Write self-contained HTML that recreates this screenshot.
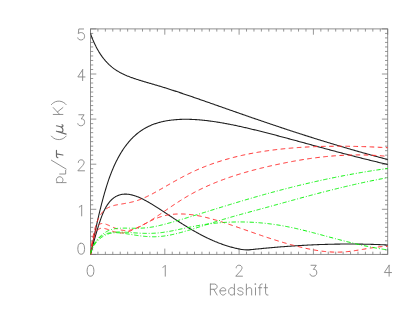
<!DOCTYPE html>
<html><head><meta charset="utf-8"><title>plot</title><style>html,body{margin:0;padding:0;background:#fff;font-family:"Liberation Sans",sans-serif}svg{display:block}</style></head><body><svg width="415" height="312" viewBox="0 0 415 312">
<rect width="415" height="312" fill="#fff"/>
<g fill="none" stroke="#848484" stroke-width="0.9">
<rect x="90.5" y="28.9" width="297.2" height="225.5"/>
<path d="M90.50 254.4v-5.8M90.50 28.9v5.8M97.93 254.4v-2.7M97.93 28.9v2.7M105.36 254.4v-2.7M105.36 28.9v2.7M112.79 254.4v-2.7M112.79 28.9v2.7M120.22 254.4v-2.7M120.22 28.9v2.7M127.65 254.4v-2.7M127.65 28.9v2.7M135.08 254.4v-2.7M135.08 28.9v2.7M142.51 254.4v-2.7M142.51 28.9v2.7M149.94 254.4v-2.7M149.94 28.9v2.7M157.37 254.4v-2.7M157.37 28.9v2.7M164.80 254.4v-5.8M164.80 28.9v5.8M172.23 254.4v-2.7M172.23 28.9v2.7M179.66 254.4v-2.7M179.66 28.9v2.7M187.09 254.4v-2.7M187.09 28.9v2.7M194.52 254.4v-2.7M194.52 28.9v2.7M201.95 254.4v-2.7M201.95 28.9v2.7M209.38 254.4v-2.7M209.38 28.9v2.7M216.81 254.4v-2.7M216.81 28.9v2.7M224.24 254.4v-2.7M224.24 28.9v2.7M231.67 254.4v-2.7M231.67 28.9v2.7M239.10 254.4v-5.8M239.10 28.9v5.8M246.53 254.4v-2.7M246.53 28.9v2.7M253.96 254.4v-2.7M253.96 28.9v2.7M261.39 254.4v-2.7M261.39 28.9v2.7M268.82 254.4v-2.7M268.82 28.9v2.7M276.25 254.4v-2.7M276.25 28.9v2.7M283.68 254.4v-2.7M283.68 28.9v2.7M291.11 254.4v-2.7M291.11 28.9v2.7M298.54 254.4v-2.7M298.54 28.9v2.7M305.97 254.4v-2.7M305.97 28.9v2.7M313.40 254.4v-5.8M313.40 28.9v5.8M320.83 254.4v-2.7M320.83 28.9v2.7M328.26 254.4v-2.7M328.26 28.9v2.7M335.69 254.4v-2.7M335.69 28.9v2.7M343.12 254.4v-2.7M343.12 28.9v2.7M350.55 254.4v-2.7M350.55 28.9v2.7M357.98 254.4v-2.7M357.98 28.9v2.7M365.41 254.4v-2.7M365.41 28.9v2.7M372.84 254.4v-2.7M372.84 28.9v2.7M380.27 254.4v-2.7M380.27 28.9v2.7M387.70 254.4v-5.8M387.70 28.9v5.8M90.5 254.40h5.8M387.7 254.40h-5.8M90.5 249.89h2.7M387.7 249.89h-2.7M90.5 245.38h2.7M387.7 245.38h-2.7M90.5 240.87h2.7M387.7 240.87h-2.7M90.5 236.36h2.7M387.7 236.36h-2.7M90.5 231.85h2.7M387.7 231.85h-2.7M90.5 227.34h2.7M387.7 227.34h-2.7M90.5 222.83h2.7M387.7 222.83h-2.7M90.5 218.32h2.7M387.7 218.32h-2.7M90.5 213.81h2.7M387.7 213.81h-2.7M90.5 209.30h5.8M387.7 209.30h-5.8M90.5 204.79h2.7M387.7 204.79h-2.7M90.5 200.28h2.7M387.7 200.28h-2.7M90.5 195.77h2.7M387.7 195.77h-2.7M90.5 191.26h2.7M387.7 191.26h-2.7M90.5 186.75h2.7M387.7 186.75h-2.7M90.5 182.24h2.7M387.7 182.24h-2.7M90.5 177.73h2.7M387.7 177.73h-2.7M90.5 173.22h2.7M387.7 173.22h-2.7M90.5 168.71h2.7M387.7 168.71h-2.7M90.5 164.20h5.8M387.7 164.20h-5.8M90.5 159.69h2.7M387.7 159.69h-2.7M90.5 155.18h2.7M387.7 155.18h-2.7M90.5 150.67h2.7M387.7 150.67h-2.7M90.5 146.16h2.7M387.7 146.16h-2.7M90.5 141.65h2.7M387.7 141.65h-2.7M90.5 137.14h2.7M387.7 137.14h-2.7M90.5 132.63h2.7M387.7 132.63h-2.7M90.5 128.12h2.7M387.7 128.12h-2.7M90.5 123.61h2.7M387.7 123.61h-2.7M90.5 119.10h5.8M387.7 119.10h-5.8M90.5 114.59h2.7M387.7 114.59h-2.7M90.5 110.08h2.7M387.7 110.08h-2.7M90.5 105.57h2.7M387.7 105.57h-2.7M90.5 101.06h2.7M387.7 101.06h-2.7M90.5 96.55h2.7M387.7 96.55h-2.7M90.5 92.04h2.7M387.7 92.04h-2.7M90.5 87.53h2.7M387.7 87.53h-2.7M90.5 83.02h2.7M387.7 83.02h-2.7M90.5 78.51h2.7M387.7 78.51h-2.7M90.5 74.00h5.8M387.7 74.00h-5.8M90.5 69.49h2.7M387.7 69.49h-2.7M90.5 64.98h2.7M387.7 64.98h-2.7M90.5 60.47h2.7M387.7 60.47h-2.7M90.5 55.96h2.7M387.7 55.96h-2.7M90.5 51.45h2.7M387.7 51.45h-2.7M90.5 46.94h2.7M387.7 46.94h-2.7M90.5 42.43h2.7M387.7 42.43h-2.7M90.5 37.92h2.7M387.7 37.92h-2.7M90.5 33.41h2.7M387.7 33.41h-2.7M90.5 28.90h5.8M387.7 28.90h-5.8" stroke="#747474" stroke-width="0.75"/>
</g>
<clipPath id="c"><rect x="90.5" y="28.9" width="297.2" height="225.5"/></clipPath>
<g fill="none" clip-path="url(#c)" stroke-linejoin="round">
<path d="M90.50 33.25L90.52 33.36L90.56 33.52L90.62 33.72L90.69 33.95L90.77 34.21L90.86 34.49L90.96 34.80L91.07 35.12L91.19 35.47L91.32 35.83L91.45 36.20L91.59 36.59L91.74 36.99L91.90 37.41L92.06 37.83L92.23 38.27L92.41 38.71L92.59 39.16L92.78 39.62L92.98 40.09L93.18 40.57L93.39 41.05L93.60 41.54L93.82 42.03L94.04 42.53L94.27 43.03L94.51 43.54L94.75 44.05L94.99 44.56L95.24 45.07L95.50 45.59L95.76 46.11L96.02 46.63L96.29 47.15L96.57 47.67L96.85 48.20L97.13 48.72L97.42 49.24L97.71 49.76L98.01 50.28L98.32 50.80L98.62 51.32L98.93 51.84L99.25 52.35L99.57 52.86L99.90 53.37L100.22 53.88L100.56 54.39L100.89 54.89L101.24 55.39L101.58 55.88L101.93 56.37L102.28 56.86L102.64 57.34L103.00 57.81L103.37 58.29L103.74 58.76L104.11 59.22L104.49 59.68L104.87 60.13L105.26 60.58L105.65 61.03L106.04 61.46L106.44 61.90L106.84 62.33L107.24 62.75L107.65 63.17L108.06 63.59L108.47 64.00L108.89 64.40L109.31 64.80L109.74 65.19L110.17 65.58L110.60 65.97L111.04 66.34L111.48 66.71L111.92 67.08L112.37 67.44L112.82 67.80L113.27 68.15L113.73 68.49L114.19 68.83L114.66 69.16L115.12 69.49L115.59 69.81L116.07 70.12L116.54 70.43L117.03 70.74L117.51 71.04L118.00 71.33L118.49 71.62L118.98 71.90L119.48 72.18L119.98 72.46L120.48 72.73L120.99 72.99L121.50 73.26L122.01 73.52L122.53 73.77L123.05 74.02L123.57 74.27L124.09 74.51L124.62 74.75L125.15 74.99L125.69 75.22L126.23 75.45L126.77 75.68L127.31 75.91L127.86 76.13L128.41 76.35L128.96 76.57L129.52 76.78L130.07 77.00L130.64 77.21L131.20 77.41L131.77 77.62L132.34 77.83L132.91 78.03L133.49 78.23L134.07 78.43L134.65 78.63L135.24 78.82L135.82 79.02L136.42 79.21L137.01 79.41L137.61 79.60L138.21 79.79L138.81 79.98L139.41 80.17L140.02 80.36L140.63 80.55L141.25 80.74L141.86 80.93L142.48 81.11L143.10 81.30L143.73 81.49L144.36 81.67L144.99 81.86L145.62 82.05L146.26 82.24L146.89 82.42L147.54 82.61L148.18 82.80L148.83 82.99L149.48 83.18L150.13 83.37L150.78 83.56L151.44 83.75L152.10 83.94L152.76 84.14L153.43 84.33L154.10 84.53L154.77 84.72L155.44 84.92L156.12 85.12L156.80 85.32L157.48 85.52L158.16 85.72L158.85 85.93L159.54 86.14L160.23 86.34L160.92 86.55L161.62 86.77L162.32 86.98L163.02 87.19L163.73 87.41L164.43 87.63L165.14 87.85L165.85 88.07L166.57 88.30L167.29 88.53L168.01 88.75L168.73 88.98L169.45 89.21L170.18 89.45L170.91 89.68L171.64 89.92L172.38 90.16L173.11 90.39L173.85 90.64L174.60 90.88L175.34 91.12L176.09 91.37L176.84 91.61L177.59 91.86L178.34 92.11L179.10 92.36L179.86 92.62L180.62 92.87L181.39 93.13L182.15 93.38L182.92 93.64L183.69 93.90L184.47 94.16L185.24 94.43L186.02 94.69L186.80 94.96L187.58 95.22L188.37 95.49L189.16 95.76L189.95 96.03L190.74 96.30L191.54 96.58L192.33 96.85L193.13 97.12L193.94 97.40L194.74 97.68L195.55 97.96L196.36 98.24L197.17 98.52L197.98 98.80L198.80 99.08L199.62 99.37L200.44 99.65L201.26 99.94L202.09 100.23L202.91 100.52L203.74 100.81L204.58 101.10L205.41 101.39L206.25 101.68L207.09 101.97L207.93 102.27L208.77 102.56L209.62 102.86L210.47 103.16L211.32 103.46L212.17 103.76L213.02 104.06L213.88 104.36L214.74 104.66L215.60 104.96L216.47 105.26L217.33 105.57L218.20 105.87L219.07 106.18L219.94 106.49L220.82 106.79L221.70 107.10L222.58 107.41L223.46 107.72L224.34 108.03L225.23 108.34L226.12 108.66L227.01 108.97L227.90 109.28L228.79 109.60L229.69 109.91L230.59 110.23L231.49 110.54L232.39 110.86L233.30 111.18L234.21 111.49L235.12 111.81L236.03 112.13L236.94 112.45L237.86 112.77L238.78 113.09L239.70 113.41L240.62 113.74L241.55 114.06L242.47 114.38L243.40 114.70L244.33 115.03L245.27 115.35L246.20 115.68L247.14 116.00L248.08 116.33L249.02 116.66L249.97 116.98L250.91 117.31L251.86 117.64L252.81 117.97L253.76 118.29L254.72 118.62L255.67 118.95L256.63 119.28L257.59 119.61L258.56 119.94L259.52 120.27L260.49 120.61L261.46 120.94L262.43 121.27L263.40 121.60L264.38 121.93L265.35 122.27L266.33 122.60L267.31 122.93L268.30 123.26L269.28 123.60L270.27 123.93L271.26 124.27L272.25 124.60L273.24 124.94L274.24 125.27L275.24 125.61L276.24 125.94L277.24 126.28L278.24 126.61L279.25 126.95L280.26 127.28L281.27 127.62L282.28 127.96L283.29 128.29L284.31 128.63L285.32 128.97L286.34 129.30L287.37 129.64L288.39 129.98L289.41 130.31L290.44 130.65L291.47 130.99L292.50 131.32L293.54 131.66L294.57 132.00L295.61 132.34L296.65 132.67L297.69 133.01L298.73 133.35L299.78 133.69L300.83 134.02L301.88 134.36L302.93 134.70L303.98 135.03L305.04 135.37L306.09 135.71L307.15 136.05L308.21 136.38L309.28 136.72L310.34 137.06L311.41 137.39L312.48 137.73L313.55 138.07L314.62 138.40L315.70 138.74L316.77 139.08L317.85 139.41L318.93 139.75L320.01 140.08L321.10 140.42L322.18 140.76L323.27 141.09L324.36 141.43L325.45 141.76L326.55 142.10L327.64 142.43L328.74 142.76L329.84 143.10L330.94 143.43L332.04 143.77L333.15 144.10L334.26 144.43L335.37 144.77L336.48 145.10L337.59 145.43L338.70 145.76L339.82 146.09L340.94 146.43L342.06 146.76L343.18 147.09L344.30 147.42L345.43 147.75L346.56 148.08L347.69 148.41L348.82 148.74L349.95 149.07L351.09 149.40L352.22 149.72L353.36 150.05L354.50 150.38L355.65 150.71L356.79 151.03L357.94 151.36L359.09 151.69L360.24 152.01L361.39 152.34L362.54 152.66L363.70 152.99L364.85 153.31L366.01 153.63L367.17 153.96L368.34 154.28L369.50 154.60L370.67 154.92L371.84 155.24L373.01 155.56L374.18 155.88L375.35 156.20L376.53 156.52L377.70 156.84L378.88 157.16L380.06 157.48L381.25 157.79L382.43 158.11L383.62 158.43L384.81 158.74L386.00 159.06L387.19 159.37L388.38 159.69" stroke="#1e1e1e" stroke-width="1.08"/>
<path d="M90.50 253.75L90.52 253.95L90.56 253.91L90.62 253.75L90.69 253.50L90.77 253.16L90.86 252.75L90.96 252.28L91.07 251.75L91.19 251.17L91.32 250.53L91.45 249.86L91.59 249.14L91.74 248.38L91.90 247.59L92.06 246.76L92.23 245.90L92.41 245.00L92.59 244.08L92.78 243.13L92.98 242.15L93.18 241.15L93.39 240.12L93.60 239.07L93.82 238.00L94.04 236.91L94.27 235.80L94.51 234.67L94.75 233.52L94.99 232.36L95.24 231.18L95.50 229.98L95.76 228.77L96.02 227.55L96.29 226.32L96.57 225.07L96.85 223.81L97.13 222.54L97.42 221.26L97.71 219.97L98.01 218.68L98.32 217.37L98.62 216.06L98.93 214.74L99.25 213.41L99.57 212.08L99.90 210.74L100.22 209.40L100.56 208.05L100.89 206.70L101.24 205.35L101.58 203.99L101.93 202.64L102.28 201.28L102.64 199.93L103.00 198.58L103.37 197.23L103.74 195.89L104.11 194.55L104.49 193.22L104.87 191.90L105.26 190.58L105.65 189.27L106.04 187.97L106.44 186.68L106.84 185.40L107.24 184.13L107.65 182.87L108.06 181.63L108.47 180.40L108.89 179.18L109.31 177.98L109.74 176.79L110.17 175.62L110.60 174.47L111.04 173.33L111.48 172.20L111.92 171.09L112.37 170.00L112.82 168.92L113.27 167.86L113.73 166.81L114.19 165.78L114.66 164.76L115.12 163.76L115.59 162.77L116.07 161.80L116.54 160.83L117.03 159.89L117.51 158.95L118.00 158.03L118.49 157.13L118.98 156.24L119.48 155.36L119.98 154.49L120.48 153.64L120.99 152.80L121.50 151.97L122.01 151.16L122.53 150.36L123.05 149.57L123.57 148.80L124.09 148.04L124.62 147.29L125.15 146.55L125.69 145.82L126.23 145.11L126.77 144.41L127.31 143.72L127.86 143.04L128.41 142.38L128.96 141.72L129.52 141.08L130.07 140.45L130.64 139.83L131.20 139.22L131.77 138.63L132.34 138.04L132.91 137.47L133.49 136.91L134.07 136.36L134.65 135.82L135.24 135.29L135.82 134.77L136.42 134.26L137.01 133.77L137.61 133.28L138.21 132.81L138.81 132.34L139.41 131.89L140.02 131.45L140.63 131.01L141.25 130.59L141.86 130.18L142.48 129.78L143.10 129.38L143.73 129.00L144.36 128.63L144.99 128.26L145.62 127.91L146.26 127.56L146.89 127.23L147.54 126.90L148.18 126.58L148.83 126.27L149.48 125.97L150.13 125.68L150.78 125.39L151.44 125.11L152.10 124.85L152.76 124.58L153.43 124.33L154.10 124.09L154.77 123.85L155.44 123.62L156.12 123.39L156.80 123.18L157.48 122.97L158.16 122.76L158.85 122.57L159.54 122.38L160.23 122.20L160.92 122.02L161.62 121.85L162.32 121.69L163.02 121.53L163.73 121.38L164.43 121.23L165.14 121.09L165.85 120.96L166.57 120.83L167.29 120.71L168.01 120.59L168.73 120.48L169.45 120.37L170.18 120.27L170.91 120.17L171.64 120.08L172.38 120.00L173.11 119.92L173.85 119.84L174.60 119.77L175.34 119.70L176.09 119.64L176.84 119.59L177.59 119.54L178.34 119.49L179.10 119.45L179.86 119.41L180.62 119.38L181.39 119.35L182.15 119.33L182.92 119.31L183.69 119.30L184.47 119.29L185.24 119.28L186.02 119.28L186.80 119.28L187.58 119.29L188.37 119.30L189.16 119.32L189.95 119.34L190.74 119.36L191.54 119.39L192.33 119.43L193.13 119.46L193.94 119.50L194.74 119.55L195.55 119.60L196.36 119.65L197.17 119.70L197.98 119.76L198.80 119.83L199.62 119.89L200.44 119.97L201.26 120.04L202.09 120.12L202.91 120.20L203.74 120.29L204.58 120.37L205.41 120.47L206.25 120.56L207.09 120.66L207.93 120.76L208.77 120.87L209.62 120.98L210.47 121.09L211.32 121.20L212.17 121.32L213.02 121.44L213.88 121.57L214.74 121.69L215.60 121.83L216.47 121.96L217.33 122.10L218.20 122.24L219.07 122.38L219.94 122.52L220.82 122.67L221.70 122.82L222.58 122.98L223.46 123.13L224.34 123.29L225.23 123.45L226.12 123.62L227.01 123.78L227.90 123.95L228.79 124.13L229.69 124.30L230.59 124.48L231.49 124.66L232.39 124.84L233.30 125.02L234.21 125.21L235.12 125.40L236.03 125.59L236.94 125.78L237.86 125.98L238.78 126.18L239.70 126.38L240.62 126.58L241.55 126.79L242.47 126.99L243.40 127.20L244.33 127.41L245.27 127.63L246.20 127.84L247.14 128.06L248.08 128.28L249.02 128.50L249.97 128.72L250.91 128.94L251.86 129.17L252.81 129.40L253.76 129.63L254.72 129.86L255.67 130.09L256.63 130.33L257.59 130.57L258.56 130.81L259.52 131.05L260.49 131.29L261.46 131.53L262.43 131.78L263.40 132.02L264.38 132.27L265.35 132.52L266.33 132.77L267.31 133.02L268.30 133.28L269.28 133.53L270.27 133.79L271.26 134.04L272.25 134.30L273.24 134.56L274.24 134.83L275.24 135.09L276.24 135.35L277.24 135.62L278.24 135.88L279.25 136.15L280.26 136.42L281.27 136.69L282.28 136.96L283.29 137.23L284.31 137.50L285.32 137.78L286.34 138.05L287.37 138.33L288.39 138.61L289.41 138.88L290.44 139.16L291.47 139.44L292.50 139.72L293.54 140.00L294.57 140.28L295.61 140.56L296.65 140.85L297.69 141.13L298.73 141.42L299.78 141.70L300.83 141.99L301.88 142.27L302.93 142.56L303.98 142.85L305.04 143.14L306.09 143.43L307.15 143.71L308.21 144.00L309.28 144.29L310.34 144.59L311.41 144.88L312.48 145.17L313.55 145.46L314.62 145.75L315.70 146.05L316.77 146.34L317.85 146.63L318.93 146.93L320.01 147.22L321.10 147.51L322.18 147.81L323.27 148.10L324.36 148.40L325.45 148.69L326.55 148.99L327.64 149.28L328.74 149.58L329.84 149.87L330.94 150.17L332.04 150.47L333.15 150.76L334.26 151.06L335.37 151.35L336.48 151.65L337.59 151.94L338.70 152.24L339.82 152.53L340.94 152.83L342.06 153.12L343.18 153.42L344.30 153.71L345.43 154.01L346.56 154.30L347.69 154.60L348.82 154.89L349.95 155.19L351.09 155.48L352.22 155.77L353.36 156.07L354.50 156.36L355.65 156.65L356.79 156.94L357.94 157.23L359.09 157.53L360.24 157.82L361.39 158.11L362.54 158.40L363.70 158.69L364.85 158.97L366.01 159.26L367.17 159.55L368.34 159.84L369.50 160.12L370.67 160.41L371.84 160.70L373.01 160.98L374.18 161.27L375.35 161.55L376.53 161.83L377.70 162.11L378.88 162.40L380.06 162.68L381.25 162.96L382.43 163.24L383.62 163.51L384.81 163.79L386.00 164.07L387.19 164.35L388.38 164.62" stroke="#1e1e1e" stroke-width="1.08"/>
<path d="M90.50 253.75L90.52 253.84L90.55 253.80L90.60 253.69L90.66 253.52L90.72 253.31L90.80 253.05L90.88 252.75L90.97 252.42L91.07 252.06L91.18 251.67L91.29 251.25L91.41 250.81L91.53 250.34L91.66 249.85L91.80 249.34L91.94 248.81L92.08 248.25L92.24 247.68L92.39 247.09L92.55 246.48L92.72 245.86L92.89 245.22L93.07 244.56L93.25 243.89L93.44 243.21L93.63 242.51L93.82 241.80L94.02 241.07L94.22 240.34L94.43 239.59L94.64 238.83L94.86 238.07L95.08 237.29L95.30 236.50L95.53 235.70L95.76 234.90L96.00 234.08L96.24 233.26L96.48 232.43L96.73 231.59L96.98 230.74L97.23 229.89L97.49 229.02L97.75 228.16L98.02 227.29L98.29 226.42L98.56 225.55L98.84 224.68L99.12 223.80L99.40 222.93L99.68 222.07L99.97 221.21L100.27 220.35L100.56 219.50L100.86 218.66L101.17 217.82L101.47 217.00L101.78 216.18L102.10 215.38L102.41 214.59L102.73 213.81L103.05 213.04L103.38 212.29L103.71 211.56L104.04 210.84L104.38 210.14L104.71 209.45L105.05 208.79L105.40 208.14L105.74 207.51L106.09 206.89L106.45 206.30L106.80 205.72L107.16 205.16L107.52 204.61L107.89 204.08L108.26 203.57L108.63 203.07L109.00 202.58L109.38 202.12L109.75 201.67L110.14 201.23L110.52 200.81L110.91 200.40L111.30 200.00L111.69 199.63L112.09 199.26L112.49 198.91L112.89 198.57L113.29 198.25L113.70 197.94L114.11 197.64L114.52 197.36L114.93 197.09L115.35 196.83L115.77 196.58L116.19 196.35L116.62 196.13L117.04 195.92L117.48 195.73L117.91 195.54L118.34 195.37L118.78 195.21L119.22 195.06L119.67 194.92L120.11 194.80L120.56 194.68L121.01 194.58L121.46 194.49L121.92 194.40L122.38 194.33L122.84 194.27L123.30 194.22L123.77 194.18L124.23 194.15L124.71 194.13L125.18 194.12L125.65 194.12L126.13 194.14L126.61 194.16L127.09 194.19L127.58 194.23L128.07 194.27L128.56 194.33L129.05 194.40L129.54 194.48L130.04 194.56L130.54 194.66L131.04 194.76L131.55 194.87L132.05 194.99L132.56 195.12L133.07 195.26L133.59 195.41L134.10 195.56L134.62 195.73L135.14 195.90L135.66 196.08L136.19 196.26L136.71 196.46L137.24 196.66L137.77 196.87L138.31 197.09L138.84 197.31L139.38 197.54L139.92 197.78L140.47 198.03L141.01 198.28L141.56 198.54L142.11 198.80L142.66 199.07L143.21 199.35L143.77 199.63L144.33 199.92L144.89 200.21L145.45 200.51L146.01 200.82L146.58 201.13L147.15 201.44L147.72 201.76L148.29 202.09L148.87 202.42L149.45 202.76L150.03 203.10L150.61 203.44L151.19 203.79L151.78 204.14L152.37 204.50L152.96 204.86L153.55 205.22L154.14 205.59L154.74 205.96L155.34 206.34L155.94 206.72L156.54 207.10L157.15 207.49L157.75 207.87L158.36 208.27L158.97 208.66L159.59 209.06L160.20 209.46L160.82 209.86L161.44 210.26L162.06 210.67L162.68 211.08L163.31 211.49L163.94 211.91L164.57 212.32L165.20 212.74L165.83 213.16L166.47 213.58L167.10 214.00L167.74 214.42L168.38 214.85L169.03 215.27L169.67 215.70L170.32 216.13L170.97 216.56L171.62 216.99L172.27 217.42L172.93 217.85L173.59 218.28L174.24 218.72L174.91 219.15L175.57 219.58L176.23 220.02L176.90 220.45L177.57 220.88L178.24 221.32L178.91 221.75L179.59 222.19L180.26 222.62L180.94 223.05L181.62 223.48L182.30 223.91L182.99 224.35L183.67 224.78L184.36 225.20L185.05 225.63L185.74 226.06L186.44 226.49L187.13 226.91L187.83 227.34L188.53 227.76L189.23 228.18L189.93 228.60L190.64 229.02L191.35 229.43L192.05 229.85L192.77 230.26L193.48 230.67L194.19 231.08L194.91 231.49L195.63 231.89L196.35 232.29L197.07 232.69L197.79 233.09L198.52 233.49L199.24 233.88L199.97 234.27L200.70 234.66L201.43 235.04L202.17 235.42L202.91 235.80L203.64 236.18L204.38 236.55L205.12 236.92L205.87 237.29L206.61 237.65L207.36 238.01L208.11 238.37L208.86 238.72L209.61 239.07L210.37 239.42L211.12 239.76L211.88 240.10L212.64 240.43L213.40 240.77L214.16 241.09L214.93 241.42L215.70 241.73L216.46 242.05L217.23 242.36L218.01 242.66L218.78 242.97L219.55 243.26L220.33 243.56L221.11 243.84L221.89 244.13L222.67 244.41L223.46 244.68L224.24 244.95L225.03 245.21L225.82 245.47L226.61 245.73L227.40 245.98L228.20 246.22L229.00 246.46L229.79 246.69L230.59 246.92L231.39 247.14L232.20 247.36L233.00 247.57L233.81 247.78L234.62 247.98L235.43 248.17L236.24 248.36L237.05 248.54L237.87 248.72L238.68 248.89L239.50 249.05L240.32 249.21L241.14 249.37L241.97 249.51Q246.11 250.15 250.88 249.64L251.84 249.55L252.79 249.45L253.75 249.35L254.70 249.25L255.66 249.15L256.61 249.06L257.57 248.96L258.52 248.87L259.48 248.77L260.43 248.68L261.39 248.59L262.34 248.50L263.30 248.40L264.25 248.31L265.21 248.22L266.16 248.13L267.12 248.05L268.07 247.96L269.03 247.87L269.98 247.79L270.94 247.70L271.89 247.62L272.85 247.53L273.80 247.45L274.76 247.37L275.71 247.29L276.67 247.21L277.62 247.13L278.57 247.05L279.53 246.97L280.48 246.90L281.44 246.82L282.39 246.75L283.35 246.67L284.30 246.60L285.26 246.53L286.21 246.45L287.17 246.38L288.12 246.31L289.08 246.25L290.03 246.18L290.99 246.11L291.94 246.05L292.90 245.98L293.85 245.92L294.81 245.86L295.76 245.79L296.72 245.73L297.67 245.67L298.63 245.62L299.58 245.56L300.54 245.50L301.49 245.45L302.45 245.39L303.40 245.34L304.36 245.28L305.31 245.23L306.27 245.18L307.22 245.13L308.17 245.08L309.13 245.04L310.08 244.99L311.04 244.94L311.99 244.90L312.95 244.86L313.90 244.82L314.86 244.77L315.81 244.73L316.77 244.69L317.72 244.66L318.68 244.62L319.63 244.58L320.59 244.55L321.54 244.52L322.50 244.48L323.45 244.45L324.41 244.42L325.36 244.39L326.32 244.37L327.27 244.34L328.23 244.31L329.18 244.29L330.14 244.27L331.09 244.24L332.05 244.22L333.00 244.20L333.96 244.18L334.91 244.16L335.87 244.15L336.82 244.13L337.78 244.12L338.73 244.11L339.68 244.09L340.64 244.08L341.59 244.07L342.55 244.06L343.50 244.06L344.46 244.05L345.41 244.05L346.37 244.04L347.32 244.04L348.28 244.04L349.23 244.04L350.19 244.04L351.14 244.04L352.10 244.04L353.05 244.05L354.01 244.05L354.96 244.06L355.92 244.07L356.87 244.08L357.83 244.09L358.78 244.10L359.74 244.11L360.69 244.12L361.65 244.14L362.60 244.16L363.56 244.17L364.51 244.19L365.47 244.21L366.42 244.23L367.38 244.26L368.33 244.28L369.29 244.30L370.24 244.33L371.19 244.36L372.15 244.38L373.10 244.41L374.06 244.45L375.01 244.48L375.97 244.51L376.92 244.55L377.88 244.58L378.83 244.62L379.79 244.66L380.74 244.70L381.70 244.74L382.65 244.78L383.61 244.82L384.56 244.87L385.52 244.91L386.47 244.96L387.43 245.01L388.38 245.06" stroke="#1e1e1e" stroke-width="1.08"/>
<path d="M90.50 253.75L90.52 253.37L90.56 252.89L90.62 252.33L90.69 251.69L90.77 251.00L90.86 250.25L90.96 249.46L91.07 248.63L91.19 247.77L91.32 246.88L91.45 245.97L91.59 245.03L91.74 244.08L91.90 243.11L92.06 242.13L92.23 241.14L92.41 240.15L92.59 239.15L92.78 238.15L92.98 237.14L93.18 236.14L93.39 235.14L93.60 234.15L93.82 233.16L94.04 232.19L94.27 231.22L94.51 230.26L94.75 229.32L94.99 228.39L95.24 227.48L95.50 226.58L95.76 225.70L96.02 224.84L96.29 224.00L96.57 223.18L96.85 222.39L97.13 221.62L97.42 220.87L97.71 220.15L98.01 219.46L98.32 218.79L98.62 218.14L98.93 217.52L99.25 216.91L99.57 216.33L99.90 215.77L100.22 215.24L100.56 214.72L100.89 214.22L101.24 213.74L101.58 213.27L101.93 212.83L102.28 212.40L102.64 211.99L103.00 211.59L103.37 211.21L103.74 210.85L104.11 210.50L104.49 210.16L104.87 209.84L105.26 209.53L105.65 209.23L106.04 208.95L106.44 208.68L106.84 208.42L107.24 208.18L107.65 207.94L108.06 207.72L108.47 207.50L108.89 207.30L109.31 207.10L109.74 206.92L110.17 206.74L110.60 206.57L111.04 206.41L111.48 206.25L111.92 206.10L112.37 205.96L112.82 205.82L113.27 205.69L113.73 205.57L114.19 205.45L114.66 205.34L115.12 205.22L115.59 205.12L116.07 205.02L116.54 204.92L117.03 204.82L117.51 204.72L118.00 204.63L118.49 204.54L118.98 204.45L119.48 204.37L119.98 204.28L120.48 204.19L120.99 204.11L121.50 204.02L122.01 203.94L122.53 203.85L123.05 203.77L123.57 203.68L124.09 203.59L124.62 203.50L125.15 203.41L125.69 203.32L126.23 203.22L126.77 203.12L127.31 203.02L127.86 202.91L128.41 202.81L128.96 202.69L129.52 202.58L130.07 202.46L130.64 202.33L131.20 202.20L131.77 202.07L132.34 201.93L132.91 201.79L133.49 201.64L134.07 201.48L134.65 201.32L135.24 201.15L135.82 200.98L136.42 200.80L137.01 200.61L137.61 200.42L138.21 200.21L138.81 200.00L139.41 199.79L140.02 199.56L140.63 199.33L141.25 199.09L141.86 198.84L142.48 198.58L143.10 198.32L143.73 198.05L144.36 197.77L144.99 197.48L145.62 197.19L146.26 196.90L146.89 196.59L147.54 196.28L148.18 195.97L148.83 195.65L149.48 195.32L150.13 194.99L150.78 194.65L151.44 194.31L152.10 193.96L152.76 193.61L153.43 193.25L154.10 192.89L154.77 192.53L155.44 192.16L156.12 191.79L156.80 191.41L157.48 191.03L158.16 190.65L158.85 190.26L159.54 189.88L160.23 189.48L160.92 189.09L161.62 188.69L162.32 188.29L163.02 187.89L163.73 187.49L164.43 187.08L165.14 186.68L165.85 186.27L166.57 185.86L167.29 185.45L168.01 185.03L168.73 184.62L169.45 184.21L170.18 183.79L170.91 183.37L171.64 182.96L172.38 182.54L173.11 182.12L173.85 181.71L174.60 181.29L175.34 180.87L176.09 180.46L176.84 180.04L177.59 179.62L178.34 179.21L179.10 178.80L179.86 178.38L180.62 177.97L181.39 177.56L182.15 177.15L182.92 176.74L183.69 176.34L184.47 175.93L185.24 175.53L186.02 175.13L186.80 174.73L187.58 174.33L188.37 173.94L189.16 173.55L189.95 173.16L190.74 172.77L191.54 172.39L192.33 172.01L193.13 171.63L193.94 171.26L194.74 170.89L195.55 170.52L196.36 170.16L197.17 169.80L197.98 169.44L198.80 169.09L199.62 168.74L200.44 168.39L201.26 168.04L202.09 167.70L202.91 167.36L203.74 167.03L204.58 166.70L205.41 166.37L206.25 166.05L207.09 165.72L207.93 165.40L208.77 165.09L209.62 164.78L210.47 164.47L211.32 164.16L212.17 163.86L213.02 163.56L213.88 163.26L214.74 162.97L215.60 162.67L216.47 162.39L217.33 162.10L218.20 161.82L219.07 161.54L219.94 161.26L220.82 160.99L221.70 160.72L222.58 160.45L223.46 160.19L224.34 159.93L225.23 159.67L226.12 159.41L227.01 159.16L227.90 158.91L228.79 158.66L229.69 158.41L230.59 158.17L231.49 157.93L232.39 157.70L233.30 157.46L234.21 157.23L235.12 157.00L236.03 156.78L236.94 156.56L237.86 156.33L238.78 156.12L239.70 155.90L240.62 155.69L241.55 155.48L242.47 155.27L243.40 155.07L244.33 154.87L245.27 154.67L246.20 154.47L247.14 154.28L248.08 154.09L249.02 153.90L249.97 153.71L250.91 153.53L251.86 153.35L252.81 153.17L253.76 152.99L254.72 152.82L255.67 152.65L256.63 152.48L257.59 152.32L258.56 152.15L259.52 151.99L260.49 151.83L261.46 151.68L262.43 151.52L263.40 151.37L264.38 151.22L265.35 151.07L266.33 150.93L267.31 150.79L268.30 150.65L269.28 150.51L270.27 150.38L271.26 150.24L272.25 150.11L273.24 149.99L274.24 149.86L275.24 149.74L276.24 149.62L277.24 149.50L278.24 149.38L279.25 149.27L280.26 149.15L281.27 149.05L282.28 148.94L283.29 148.83L284.31 148.73L285.32 148.63L286.34 148.53L287.37 148.43L288.39 148.34L289.41 148.25L290.44 148.16L291.47 148.07L292.50 147.98L293.54 147.90L294.57 147.82L295.61 147.74L296.65 147.66L297.69 147.59L298.73 147.51L299.78 147.44L300.83 147.37L301.88 147.31L302.93 147.24L303.98 147.18L305.04 147.12L306.09 147.06L307.15 147.00L308.21 146.95L309.28 146.90L310.34 146.85L311.41 146.80L312.48 146.75L313.55 146.71L314.62 146.66L315.70 146.62L316.77 146.59L317.85 146.55L318.93 146.51L320.01 146.48L321.10 146.45L322.18 146.42L323.27 146.39L324.36 146.37L325.45 146.35L326.55 146.32L327.64 146.30L328.74 146.29L329.84 146.27L330.94 146.26L332.04 146.25L333.15 146.24L334.26 146.23L335.37 146.22L336.48 146.22L337.59 146.21L338.70 146.21L339.82 146.21L340.94 146.21L342.06 146.22L343.18 146.23L344.30 146.23L345.43 146.24L346.56 146.25L347.69 146.27L348.82 146.28L349.95 146.30L351.09 146.32L352.22 146.34L353.36 146.36L354.50 146.38L355.65 146.41L356.79 146.44L357.94 146.46L359.09 146.49L360.24 146.53L361.39 146.56L362.54 146.60L363.70 146.63L364.85 146.67L366.01 146.71L367.17 146.75L368.34 146.80L369.50 146.84L370.67 146.89L371.84 146.94L373.01 146.99L374.18 147.04L375.35 147.09L376.53 147.15L377.70 147.20L378.88 147.26L380.06 147.32L381.25 147.38L382.43 147.45L383.62 147.51L384.81 147.58L386.00 147.64L387.19 147.71L388.38 147.78" stroke="#ff2a2a" stroke-width="1.0" stroke-dasharray="4.6 3.5"/>
<path d="M90.50 253.75L90.52 254.78L90.56 255.16L90.62 255.23L90.69 255.10L90.77 254.79L90.86 254.36L90.96 253.80L91.07 253.15L91.19 252.42L91.32 251.62L91.45 250.77L91.59 249.86L91.74 248.91L91.90 247.92L92.06 246.91L92.23 245.88L92.41 244.83L92.59 243.77L92.78 242.70L92.98 241.64L93.18 240.58L93.39 239.53L93.60 238.49L93.82 237.46L94.04 236.46L94.27 235.48L94.51 234.53L94.75 233.60L94.99 232.71L95.24 231.86L95.50 231.04L95.76 230.27L96.02 229.54L96.29 228.86L96.57 228.22L96.85 227.64L97.13 227.10L97.42 226.61L97.71 226.17L98.01 225.76L98.32 225.40L98.62 225.07L98.93 224.78L99.25 224.52L99.57 224.30L99.90 224.10L100.22 223.94L100.56 223.80L100.89 223.70L101.24 223.61L101.58 223.55L101.93 223.52L102.28 223.50L102.64 223.51L103.00 223.53L103.37 223.57L103.74 223.63L104.11 223.70L104.49 223.79L104.87 223.89L105.26 224.00L105.65 224.12L106.04 224.25L106.44 224.40L106.84 224.55L107.24 224.71L107.65 224.87L108.06 225.04L108.47 225.22L108.89 225.40L109.31 225.59L109.74 225.78L110.17 225.98L110.60 226.17L111.04 226.37L111.48 226.57L111.92 226.77L112.37 226.97L112.82 227.18L113.27 227.38L113.73 227.57L114.19 227.77L114.66 227.96L115.12 228.15L115.59 228.34L116.07 228.52L116.54 228.70L117.03 228.87L117.51 229.04L118.00 229.20L118.49 229.35L118.98 229.50L119.48 229.64L119.98 229.77L120.48 229.89L120.99 230.00L121.50 230.11L122.01 230.20L122.53 230.28L123.05 230.35L123.57 230.42L124.09 230.46L124.62 230.50L125.15 230.53L125.69 230.54L126.23 230.54L126.77 230.52L127.31 230.49L127.86 230.45L128.41 230.39L128.96 230.31L129.52 230.23L130.07 230.12L130.64 230.01L131.20 229.88L131.77 229.74L132.34 229.59L132.91 229.42L133.49 229.25L134.07 229.06L134.65 228.86L135.24 228.64L135.82 228.42L136.42 228.19L137.01 227.94L137.61 227.69L138.21 227.42L138.81 227.15L139.41 226.87L140.02 226.57L140.63 226.27L141.25 225.96L141.86 225.64L142.48 225.31L143.10 224.98L143.73 224.64L144.36 224.28L144.99 223.93L145.62 223.56L146.26 223.19L146.89 222.81L147.54 222.42L148.18 222.03L148.83 221.63L149.48 221.22L150.13 220.81L150.78 220.40L151.44 219.98L152.10 219.55L152.76 219.12L153.43 218.68L154.10 218.24L154.77 217.80L155.44 217.35L156.12 216.90L156.80 216.44L157.48 215.98L158.16 215.52L158.85 215.05L159.54 214.58L160.23 214.11L160.92 213.63L161.62 213.15L162.32 212.67L163.02 212.19L163.73 211.71L164.43 211.22L165.14 210.73L165.85 210.24L166.57 209.75L167.29 209.26L168.01 208.77L168.73 208.28L169.45 207.78L170.18 207.29L170.91 206.80L171.64 206.30L172.38 205.81L173.11 205.31L173.85 204.82L174.60 204.33L175.34 203.84L176.09 203.34L176.84 202.85L177.59 202.37L178.34 201.88L179.10 201.39L179.86 200.91L180.62 200.42L181.39 199.94L182.15 199.46L182.92 198.99L183.69 198.51L184.47 198.04L185.24 197.57L186.02 197.11L186.80 196.64L187.58 196.18L188.37 195.73L189.16 195.27L189.95 194.82L190.74 194.38L191.54 193.93L192.33 193.49L193.13 193.06L193.94 192.63L194.74 192.20L195.55 191.77L196.36 191.35L197.17 190.93L197.98 190.52L198.80 190.11L199.62 189.70L200.44 189.29L201.26 188.89L202.09 188.49L202.91 188.10L203.74 187.70L204.58 187.32L205.41 186.93L206.25 186.55L207.09 186.17L207.93 185.79L208.77 185.42L209.62 185.05L210.47 184.68L211.32 184.31L212.17 183.95L213.02 183.59L213.88 183.24L214.74 182.88L215.60 182.53L216.47 182.18L217.33 181.84L218.20 181.50L219.07 181.16L219.94 180.82L220.82 180.49L221.70 180.15L222.58 179.82L223.46 179.50L224.34 179.17L225.23 178.85L226.12 178.53L227.01 178.22L227.90 177.90L228.79 177.59L229.69 177.28L230.59 176.98L231.49 176.67L232.39 176.37L233.30 176.07L234.21 175.78L235.12 175.48L236.03 175.19L236.94 174.90L237.86 174.61L238.78 174.32L239.70 174.04L240.62 173.76L241.55 173.48L242.47 173.20L243.40 172.93L244.33 172.65L245.27 172.38L246.20 172.11L247.14 171.85L248.08 171.58L249.02 171.32L249.97 171.06L250.91 170.80L251.86 170.54L252.81 170.29L253.76 170.03L254.72 169.78L255.67 169.53L256.63 169.28L257.59 169.04L258.56 168.79L259.52 168.55L260.49 168.31L261.46 168.07L262.43 167.83L263.40 167.60L264.38 167.36L265.35 167.13L266.33 166.90L267.31 166.67L268.30 166.44L269.28 166.22L270.27 165.99L271.26 165.77L272.25 165.55L273.24 165.33L274.24 165.11L275.24 164.89L276.24 164.68L277.24 164.47L278.24 164.25L279.25 164.04L280.26 163.83L281.27 163.62L282.28 163.42L283.29 163.21L284.31 163.01L285.32 162.80L286.34 162.60L287.37 162.40L288.39 162.20L289.41 162.01L290.44 161.81L291.47 161.62L292.50 161.43L293.54 161.24L294.57 161.05L295.61 160.87L296.65 160.68L297.69 160.50L298.73 160.32L299.78 160.14L300.83 159.97L301.88 159.80L302.93 159.62L303.98 159.46L305.04 159.29L306.09 159.13L307.15 158.96L308.21 158.81L309.28 158.65L310.34 158.50L311.41 158.34L312.48 158.20L313.55 158.05L314.62 157.91L315.70 157.77L316.77 157.63L317.85 157.50L318.93 157.36L320.01 157.24L321.10 157.11L322.18 156.99L323.27 156.87L324.36 156.75L325.45 156.64L326.55 156.53L327.64 156.42L328.74 156.32L329.84 156.22L330.94 156.12L332.04 156.03L333.15 155.94L334.26 155.85L335.37 155.77L336.48 155.69L337.59 155.61L338.70 155.54L339.82 155.47L340.94 155.41L342.06 155.35L343.18 155.29L344.30 155.24L345.43 155.19L346.56 155.15L347.69 155.11L348.82 155.07L349.95 155.04L351.09 155.01L352.22 154.98L353.36 154.96L354.50 154.95L355.65 154.93L356.79 154.93L357.94 154.92L359.09 154.92L360.24 154.93L361.39 154.94L362.54 154.95L363.70 154.97L364.85 155.00L366.01 155.02L367.17 155.06L368.34 155.09L369.50 155.14L370.67 155.18L371.84 155.24L373.01 155.29L374.18 155.35L375.35 155.42L376.53 155.49L377.70 155.57L378.88 155.65L380.06 155.74L381.25 155.83L382.43 155.92L383.62 156.03L384.81 156.13L386.00 156.25L387.19 156.36L388.38 156.49" stroke="#ff2a2a" stroke-width="1.0" stroke-dasharray="4.6 3.5"/>
<path d="M90.50 253.75L90.52 253.53L90.56 253.18L90.62 252.74L90.69 252.23L90.77 251.67L90.86 251.05L90.96 250.40L91.07 249.72L91.19 249.01L91.32 248.27L91.45 247.52L91.59 246.76L91.74 245.99L91.90 245.21L92.06 244.42L92.23 243.64L92.41 242.86L92.59 242.08L92.78 241.30L92.98 240.54L93.18 239.79L93.39 239.05L93.60 238.32L93.82 237.61L94.04 236.92L94.27 236.25L94.51 235.60L94.75 234.97L94.99 234.37L95.24 233.80L95.50 233.25L95.76 232.73L96.02 232.24L96.29 231.78L96.57 231.36L96.85 230.97L97.13 230.60L97.42 230.27L97.71 229.97L98.01 229.70L98.32 229.45L98.62 229.23L98.93 229.04L99.25 228.86L99.57 228.71L99.90 228.58L100.22 228.47L100.56 228.39L100.89 228.32L101.24 228.26L101.58 228.23L101.93 228.21L102.28 228.21L102.64 228.22L103.00 228.24L103.37 228.28L103.74 228.34L104.11 228.40L104.49 228.48L104.87 228.56L105.26 228.66L105.65 228.76L106.04 228.87L106.44 229.00L106.84 229.13L107.24 229.26L107.65 229.40L108.06 229.55L108.47 229.70L108.89 229.86L109.31 230.02L109.74 230.18L110.17 230.34L110.60 230.50L111.04 230.67L111.48 230.83L111.92 230.99L112.37 231.15L112.82 231.30L113.27 231.46L113.73 231.61L114.19 231.75L114.66 231.89L115.12 232.02L115.59 232.15L116.07 232.27L116.54 232.38L117.03 232.49L117.51 232.58L118.00 232.67L118.49 232.75L118.98 232.81L119.48 232.87L119.98 232.91L120.48 232.94L120.99 232.96L121.50 232.96L122.01 232.95L122.53 232.93L123.05 232.89L123.57 232.84L124.09 232.77L124.62 232.69L125.15 232.59L125.69 232.48L126.23 232.35L126.77 232.21L127.31 232.06L127.86 231.89L128.41 231.71L128.96 231.52L129.52 231.32L130.07 231.11L130.64 230.89L131.20 230.65L131.77 230.41L132.34 230.16L132.91 229.91L133.49 229.64L134.07 229.37L134.65 229.09L135.24 228.80L135.82 228.51L136.42 228.22L137.01 227.91L137.61 227.61L138.21 227.30L138.81 226.98L139.41 226.66L140.02 226.34L140.63 226.02L141.25 225.69L141.86 225.36L142.48 225.03L143.10 224.70L143.73 224.37L144.36 224.04L144.99 223.71L145.62 223.38L146.26 223.05L146.89 222.72L147.54 222.39L148.18 222.07L148.83 221.75L149.48 221.43L150.13 221.11L150.78 220.79L151.44 220.48L152.10 220.18L152.76 219.88L153.43 219.58L154.10 219.29L154.77 219.00L155.44 218.72L156.12 218.45L156.80 218.18L157.48 217.92L158.16 217.67L158.85 217.42L159.54 217.18L160.23 216.95L160.92 216.73L161.62 216.51L162.32 216.31L163.02 216.11L163.73 215.93L164.43 215.75L165.14 215.58L165.85 215.42L166.57 215.27L167.29 215.13L168.01 214.99L168.73 214.87L169.45 214.75L170.18 214.64L170.91 214.54L171.64 214.45L172.38 214.36L173.11 214.29L173.85 214.22L174.60 214.16L175.34 214.11L176.09 214.06L176.84 214.02L177.59 214.00L178.34 213.97L179.10 213.96L179.86 213.95L180.62 213.95L181.39 213.96L182.15 213.98L182.92 214.00L183.69 214.03L184.47 214.07L185.24 214.11L186.02 214.16L186.80 214.22L187.58 214.28L188.37 214.35L189.16 214.43L189.95 214.52L190.74 214.61L191.54 214.70L192.33 214.81L193.13 214.92L193.94 215.04L194.74 215.16L195.55 215.29L196.36 215.42L197.17 215.57L197.98 215.71L198.80 215.87L199.62 216.03L200.44 216.19L201.26 216.36L202.09 216.54L202.91 216.72L203.74 216.91L204.58 217.10L205.41 217.30L206.25 217.50L207.09 217.71L207.93 217.93L208.77 218.14L209.62 218.37L210.47 218.59L211.32 218.82L212.17 219.06L213.02 219.30L213.88 219.54L214.74 219.79L215.60 220.04L216.47 220.30L217.33 220.56L218.20 220.82L219.07 221.09L219.94 221.36L220.82 221.63L221.70 221.90L222.58 222.18L223.46 222.47L224.34 222.75L225.23 223.04L226.12 223.33L227.01 223.62L227.90 223.92L228.79 224.22L229.69 224.52L230.59 224.82L231.49 225.13L232.39 225.44L233.30 225.75L234.21 226.06L235.12 226.37L236.03 226.69L236.94 227.00L237.86 227.32L238.78 227.64L239.70 227.96L240.62 228.28L241.55 228.61L242.47 228.93L243.40 229.26L244.33 229.58L245.27 229.91L246.20 230.24L247.14 230.57L248.08 230.90L249.02 231.23L249.97 231.56L250.91 231.89L251.86 232.22L252.81 232.55L253.76 232.89L254.72 233.22L255.67 233.55L256.63 233.88L257.59 234.21L258.56 234.54L259.52 234.87L260.49 235.20L261.46 235.53L262.43 235.86L263.40 236.19L264.38 236.52L265.35 236.85L266.33 237.17L267.31 237.50L268.30 237.82L269.28 238.14L270.27 238.47L271.26 238.79L272.25 239.10L273.24 239.42L274.24 239.74L275.24 240.05L276.24 240.37L277.24 240.68L278.24 240.99L279.25 241.29L280.26 241.60L281.27 241.90L282.28 242.20L283.29 242.50L284.31 242.80L285.32 243.09L286.34 243.38L287.37 243.67L288.39 243.96L289.41 244.24L290.44 244.53L291.47 244.81L292.50 245.08L293.54 245.35L294.57 245.62L295.61 245.89L296.65 246.16L297.69 246.42L298.73 246.67L299.78 246.93L300.83 247.18L301.88 247.43L302.93 247.67L303.98 247.91L305.04 248.15L306.09 248.38L307.15 248.61L308.21 248.83L309.28 249.05L310.34 249.26L311.41 249.47L312.48 249.67L313.55 249.87L314.62 250.06L315.70 250.24L316.77 250.42L317.85 250.59L318.93 250.75L320.01 250.90L321.10 251.05L322.18 251.19L323.27 251.32L324.36 251.44L325.45 251.55L326.55 251.66L327.64 251.75L328.74 251.84L329.84 251.91L330.94 251.98L332.04 252.03L333.15 252.08L334.26 252.11L335.37 252.13L336.48 252.14L337.59 252.14L338.70 252.13L339.82 252.11L340.94 252.07L342.06 252.02L343.18 251.96L344.30 251.89L345.43 251.80L346.56 251.70L347.69 251.59L348.82 251.46L349.95 251.33L351.09 251.18L352.22 251.03L353.36 250.87L354.50 250.70L355.65 250.52L356.79 250.34L357.94 250.16L359.09 249.96L360.24 249.77L361.39 249.58L362.54 249.38L363.70 249.18L364.85 248.98L366.01 248.78L367.17 248.59L368.34 248.40L369.50 248.21L370.67 248.02L371.84 247.84L373.01 247.67L374.18 247.50L375.35 247.34L376.53 247.19L377.70 247.04L378.88 246.91L380.06 246.79L381.25 246.68L382.43 246.58L383.62 246.49L384.81 246.42L386.00 246.36L387.19 246.32L388.38 246.29" stroke="#ff2a2a" stroke-width="1.0" stroke-dasharray="4.6 3.5"/>
<path d="M90.50 253.75L90.52 253.31L90.56 252.94L90.62 252.59L90.69 252.23L90.77 251.87L90.86 251.51L90.96 251.15L91.07 250.78L91.19 250.41L91.32 250.04L91.45 249.66L91.59 249.28L91.74 248.90L91.90 248.52L92.06 248.14L92.23 247.75L92.41 247.36L92.59 246.98L92.78 246.59L92.98 246.20L93.18 245.81L93.39 245.42L93.60 245.04L93.82 244.65L94.04 244.26L94.27 243.88L94.51 243.49L94.75 243.11L94.99 242.73L95.24 242.35L95.50 241.97L95.76 241.60L96.02 241.23L96.29 240.86L96.57 240.49L96.85 240.13L97.13 239.76L97.42 239.41L97.71 239.05L98.01 238.70L98.32 238.35L98.62 238.01L98.93 237.67L99.25 237.33L99.57 237.00L99.90 236.67L100.22 236.35L100.56 236.03L100.89 235.72L101.24 235.41L101.58 235.11L101.93 234.81L102.28 234.52L102.64 234.23L103.00 233.95L103.37 233.67L103.74 233.40L104.11 233.14L104.49 232.88L104.87 232.63L105.26 232.38L105.65 232.14L106.04 231.91L106.44 231.68L106.84 231.47L107.24 231.25L107.65 231.05L108.06 230.85L108.47 230.65L108.89 230.47L109.31 230.29L109.74 230.12L110.17 229.96L110.60 229.80L111.04 229.66L111.48 229.52L111.92 229.39L112.37 229.26L112.82 229.15L113.27 229.04L113.73 228.94L114.19 228.85L114.66 228.76L115.12 228.68L115.59 228.61L116.07 228.54L116.54 228.48L117.03 228.43L117.51 228.38L118.00 228.34L118.49 228.30L118.98 228.27L119.48 228.24L119.98 228.21L120.48 228.19L120.99 228.17L121.50 228.16L122.01 228.15L122.53 228.14L123.05 228.13L123.57 228.13L124.09 228.13L124.62 228.13L125.15 228.14L125.69 228.14L126.23 228.15L126.77 228.16L127.31 228.16L127.86 228.17L128.41 228.18L128.96 228.19L129.52 228.20L130.07 228.22L130.64 228.23L131.20 228.24L131.77 228.24L132.34 228.25L132.91 228.26L133.49 228.27L134.07 228.27L134.65 228.27L135.24 228.27L135.82 228.27L136.42 228.27L137.01 228.27L137.61 228.26L138.21 228.25L138.81 228.24L139.41 228.22L140.02 228.20L140.63 228.18L141.25 228.15L141.86 228.12L142.48 228.09L143.10 228.05L143.73 228.01L144.36 227.96L144.99 227.91L145.62 227.86L146.26 227.80L146.89 227.74L147.54 227.67L148.18 227.59L148.83 227.51L149.48 227.42L150.13 227.33L150.78 227.24L151.44 227.13L152.10 227.02L152.76 226.91L153.43 226.79L154.10 226.67L154.77 226.54L155.44 226.41L156.12 226.27L156.80 226.13L157.48 225.98L158.16 225.83L158.85 225.68L159.54 225.52L160.23 225.35L160.92 225.19L161.62 225.02L162.32 224.84L163.02 224.67L163.73 224.49L164.43 224.30L165.14 224.12L165.85 223.93L166.57 223.74L167.29 223.54L168.01 223.34L168.73 223.14L169.45 222.94L170.18 222.74L170.91 222.53L171.64 222.32L172.38 222.11L173.11 221.90L173.85 221.69L174.60 221.47L175.34 221.25L176.09 221.04L176.84 220.82L177.59 220.59L178.34 220.37L179.10 220.15L179.86 219.92L180.62 219.69L181.39 219.47L182.15 219.24L182.92 219.01L183.69 218.77L184.47 218.54L185.24 218.30L186.02 218.07L186.80 217.83L187.58 217.59L188.37 217.35L189.16 217.11L189.95 216.87L190.74 216.63L191.54 216.38L192.33 216.14L193.13 215.89L193.94 215.65L194.74 215.40L195.55 215.15L196.36 214.90L197.17 214.65L197.98 214.40L198.80 214.15L199.62 213.89L200.44 213.64L201.26 213.38L202.09 213.13L202.91 212.87L203.74 212.61L204.58 212.35L205.41 212.10L206.25 211.84L207.09 211.58L207.93 211.31L208.77 211.05L209.62 210.79L210.47 210.53L211.32 210.26L212.17 210.00L213.02 209.73L213.88 209.47L214.74 209.20L215.60 208.94L216.47 208.67L217.33 208.40L218.20 208.13L219.07 207.87L219.94 207.60L220.82 207.33L221.70 207.06L222.58 206.79L223.46 206.52L224.34 206.25L225.23 205.98L226.12 205.70L227.01 205.43L227.90 205.16L228.79 204.89L229.69 204.61L230.59 204.34L231.49 204.07L232.39 203.80L233.30 203.52L234.21 203.25L235.12 202.97L236.03 202.70L236.94 202.43L237.86 202.15L238.78 201.88L239.70 201.60L240.62 201.33L241.55 201.05L242.47 200.78L243.40 200.50L244.33 200.23L245.27 199.95L246.20 199.68L247.14 199.40L248.08 199.13L249.02 198.85L249.97 198.58L250.91 198.31L251.86 198.03L252.81 197.76L253.76 197.48L254.72 197.21L255.67 196.93L256.63 196.66L257.59 196.39L258.56 196.11L259.52 195.84L260.49 195.57L261.46 195.29L262.43 195.02L263.40 194.75L264.38 194.48L265.35 194.21L266.33 193.94L267.31 193.66L268.30 193.39L269.28 193.12L270.27 192.85L271.26 192.58L272.25 192.31L273.24 192.05L274.24 191.78L275.24 191.51L276.24 191.24L277.24 190.97L278.24 190.71L279.25 190.44L280.26 190.18L281.27 189.91L282.28 189.65L283.29 189.38L284.31 189.12L285.32 188.85L286.34 188.59L287.37 188.33L288.39 188.07L289.41 187.81L290.44 187.55L291.47 187.29L292.50 187.03L293.54 186.77L294.57 186.51L295.61 186.26L296.65 186.00L297.69 185.74L298.73 185.49L299.78 185.23L300.83 184.98L301.88 184.73L302.93 184.48L303.98 184.22L305.04 183.97L306.09 183.72L307.15 183.48L308.21 183.23L309.28 182.98L310.34 182.73L311.41 182.49L312.48 182.24L313.55 182.00L314.62 181.76L315.70 181.51L316.77 181.27L317.85 181.03L318.93 180.79L320.01 180.56L321.10 180.32L322.18 180.08L323.27 179.85L324.36 179.61L325.45 179.38L326.55 179.15L327.64 178.91L328.74 178.68L329.84 178.45L330.94 178.23L332.04 178.00L333.15 177.77L334.26 177.55L335.37 177.32L336.48 177.10L337.59 176.88L338.70 176.66L339.82 176.44L340.94 176.22L342.06 176.00L343.18 175.78L344.30 175.57L345.43 175.35L346.56 175.14L347.69 174.93L348.82 174.72L349.95 174.51L351.09 174.30L352.22 174.10L353.36 173.89L354.50 173.69L355.65 173.48L356.79 173.28L357.94 173.08L359.09 172.88L360.24 172.69L361.39 172.49L362.54 172.29L363.70 172.10L364.85 171.91L366.01 171.72L367.17 171.53L368.34 171.34L369.50 171.15L370.67 170.97L371.84 170.78L373.01 170.60L374.18 170.42L375.35 170.24L376.53 170.06L377.70 169.89L378.88 169.71L380.06 169.54L381.25 169.36L382.43 169.19L383.62 169.02L384.81 168.86L386.00 168.69L387.19 168.52L388.38 168.36" stroke="#0cf20c" stroke-width="1.0" stroke-dasharray="4.3 1.9 0.9 1.9"/>
<path d="M90.50 253.75L90.52 253.39L90.56 253.09L90.62 252.79L90.69 252.49L90.77 252.18L90.86 251.87L90.96 251.55L91.07 251.23L91.19 250.90L91.32 250.57L91.45 250.24L91.59 249.91L91.74 249.57L91.90 249.23L92.06 248.89L92.23 248.54L92.41 248.20L92.59 247.85L92.78 247.51L92.98 247.16L93.18 246.81L93.39 246.47L93.60 246.12L93.82 245.77L94.04 245.43L94.27 245.09L94.51 244.74L94.75 244.40L94.99 244.06L95.24 243.73L95.50 243.39L95.76 243.06L96.02 242.73L96.29 242.40L96.57 242.08L96.85 241.75L97.13 241.44L97.42 241.12L97.71 240.81L98.01 240.50L98.32 240.20L98.62 239.90L98.93 239.60L99.25 239.31L99.57 239.03L99.90 238.74L100.22 238.47L100.56 238.19L100.89 237.93L101.24 237.67L101.58 237.41L101.93 237.16L102.28 236.91L102.64 236.67L103.00 236.44L103.37 236.21L103.74 235.99L104.11 235.78L104.49 235.57L104.87 235.37L105.26 235.17L105.65 234.98L106.04 234.80L106.44 234.62L106.84 234.46L107.24 234.30L107.65 234.14L108.06 234.00L108.47 233.86L108.89 233.73L109.31 233.60L109.74 233.49L110.17 233.38L110.60 233.28L111.04 233.19L111.48 233.11L111.92 233.03L112.37 232.96L112.82 232.91L113.27 232.86L113.73 232.81L114.19 232.78L114.66 232.76L115.12 232.74L115.59 232.73L116.07 232.72L116.54 232.72L117.03 232.73L117.51 232.75L118.00 232.77L118.49 232.79L118.98 232.82L119.48 232.86L119.98 232.90L120.48 232.95L120.99 233.00L121.50 233.05L122.01 233.11L122.53 233.17L123.05 233.24L123.57 233.31L124.09 233.38L124.62 233.45L125.15 233.53L125.69 233.61L126.23 233.69L126.77 233.78L127.31 233.86L127.86 233.95L128.41 234.04L128.96 234.13L129.52 234.22L130.07 234.31L130.64 234.40L131.20 234.50L131.77 234.59L132.34 234.68L132.91 234.78L133.49 234.87L134.07 234.96L134.65 235.06L135.24 235.15L135.82 235.24L136.42 235.33L137.01 235.42L137.61 235.50L138.21 235.59L138.81 235.67L139.41 235.75L140.02 235.83L140.63 235.91L141.25 235.98L141.86 236.06L142.48 236.13L143.10 236.19L143.73 236.26L144.36 236.32L144.99 236.38L145.62 236.43L146.26 236.48L146.89 236.53L147.54 236.57L148.18 236.61L148.83 236.64L149.48 236.67L150.13 236.70L150.78 236.72L151.44 236.74L152.10 236.75L152.76 236.76L153.43 236.76L154.10 236.76L154.77 236.75L155.44 236.73L156.12 236.71L156.80 236.69L157.48 236.65L158.16 236.62L158.85 236.57L159.54 236.52L160.23 236.47L160.92 236.40L161.62 236.33L162.32 236.26L163.02 236.17L163.73 236.09L164.43 235.99L165.14 235.89L165.85 235.78L166.57 235.67L167.29 235.55L168.01 235.42L168.73 235.29L169.45 235.16L170.18 235.02L170.91 234.87L171.64 234.72L172.38 234.56L173.11 234.40L173.85 234.24L174.60 234.07L175.34 233.89L176.09 233.71L176.84 233.53L177.59 233.34L178.34 233.15L179.10 232.96L179.86 232.76L180.62 232.55L181.39 232.35L182.15 232.14L182.92 231.92L183.69 231.71L184.47 231.49L185.24 231.26L186.02 231.04L186.80 230.81L187.58 230.58L188.37 230.34L189.16 230.11L189.95 229.87L190.74 229.63L191.54 229.38L192.33 229.14L193.13 228.89L193.94 228.64L194.74 228.38L195.55 228.13L196.36 227.88L197.17 227.62L197.98 227.36L198.80 227.10L199.62 226.84L200.44 226.57L201.26 226.31L202.09 226.05L202.91 225.78L203.74 225.51L204.58 225.24L205.41 224.98L206.25 224.71L207.09 224.44L207.93 224.17L208.77 223.90L209.62 223.63L210.47 223.36L211.32 223.08L212.17 222.81L213.02 222.54L213.88 222.27L214.74 222.00L215.60 221.73L216.47 221.46L217.33 221.19L218.20 220.92L219.07 220.65L219.94 220.39L220.82 220.12L221.70 219.85L222.58 219.59L223.46 219.33L224.34 219.06L225.23 218.80L226.12 218.54L227.01 218.28L227.90 218.02L228.79 217.76L229.69 217.50L230.59 217.25L231.49 216.99L232.39 216.73L233.30 216.48L234.21 216.22L235.12 215.97L236.03 215.71L236.94 215.46L237.86 215.20L238.78 214.95L239.70 214.69L240.62 214.44L241.55 214.19L242.47 213.93L243.40 213.68L244.33 213.43L245.27 213.17L246.20 212.92L247.14 212.66L248.08 212.41L249.02 212.15L249.97 211.90L250.91 211.64L251.86 211.39L252.81 211.13L253.76 210.87L254.72 210.62L255.67 210.36L256.63 210.10L257.59 209.84L258.56 209.58L259.52 209.32L260.49 209.06L261.46 208.79L262.43 208.53L263.40 208.27L264.38 208.00L265.35 207.73L266.33 207.47L267.31 207.20L268.30 206.93L269.28 206.66L270.27 206.39L271.26 206.12L272.25 205.85L273.24 205.57L274.24 205.30L275.24 205.02L276.24 204.75L277.24 204.47L278.24 204.20L279.25 203.92L280.26 203.64L281.27 203.36L282.28 203.08L283.29 202.80L284.31 202.52L285.32 202.24L286.34 201.96L287.37 201.68L288.39 201.40L289.41 201.12L290.44 200.83L291.47 200.55L292.50 200.27L293.54 199.99L294.57 199.70L295.61 199.42L296.65 199.14L297.69 198.85L298.73 198.57L299.78 198.28L300.83 198.00L301.88 197.71L302.93 197.43L303.98 197.15L305.04 196.86L306.09 196.58L307.15 196.29L308.21 196.01L309.28 195.73L310.34 195.44L311.41 195.16L312.48 194.88L313.55 194.59L314.62 194.31L315.70 194.03L316.77 193.74L317.85 193.46L318.93 193.18L320.01 192.90L321.10 192.62L322.18 192.34L323.27 192.06L324.36 191.78L325.45 191.50L326.55 191.22L327.64 190.94L328.74 190.67L329.84 190.39L330.94 190.11L332.04 189.84L333.15 189.56L334.26 189.29L335.37 189.01L336.48 188.74L337.59 188.47L338.70 188.20L339.82 187.92L340.94 187.65L342.06 187.39L343.18 187.12L344.30 186.85L345.43 186.58L346.56 186.32L347.69 186.05L348.82 185.79L349.95 185.52L351.09 185.26L352.22 185.00L353.36 184.74L354.50 184.48L355.65 184.22L356.79 183.97L357.94 183.71L359.09 183.46L360.24 183.20L361.39 182.95L362.54 182.70L363.70 182.45L364.85 182.20L366.01 181.95L367.17 181.71L368.34 181.46L369.50 181.22L370.67 180.98L371.84 180.74L373.01 180.50L374.18 180.26L375.35 180.02L376.53 179.79L377.70 179.55L378.88 179.32L380.06 179.09L381.25 178.86L382.43 178.63L383.62 178.41L384.81 178.18L386.00 177.96L387.19 177.74L388.38 177.52" stroke="#0cf20c" stroke-width="1.0" stroke-dasharray="4.3 1.9 0.9 1.9"/>
<path d="M90.50 253.75L90.52 253.50L90.56 253.25L90.62 252.98L90.69 252.69L90.77 252.38L90.86 252.06L90.96 251.73L91.07 251.38L91.19 251.03L91.32 250.66L91.45 250.29L91.59 249.92L91.74 249.53L91.90 249.14L92.06 248.75L92.23 248.35L92.41 247.95L92.59 247.55L92.78 247.15L92.98 246.74L93.18 246.34L93.39 245.93L93.60 245.53L93.82 245.12L94.04 244.72L94.27 244.32L94.51 243.92L94.75 243.53L94.99 243.14L95.24 242.75L95.50 242.37L95.76 241.99L96.02 241.61L96.29 241.24L96.57 240.88L96.85 240.52L97.13 240.17L97.42 239.83L97.71 239.49L98.01 239.16L98.32 238.83L98.62 238.51L98.93 238.21L99.25 237.91L99.57 237.61L99.90 237.33L100.22 237.06L100.56 236.79L100.89 236.54L101.24 236.29L101.58 236.06L101.93 235.83L102.28 235.61L102.64 235.40L103.00 235.20L103.37 235.00L103.74 234.81L104.11 234.64L104.49 234.46L104.87 234.30L105.26 234.14L105.65 233.99L106.04 233.85L106.44 233.71L106.84 233.58L107.24 233.46L107.65 233.34L108.06 233.23L108.47 233.12L108.89 233.02L109.31 232.93L109.74 232.84L110.17 232.75L110.60 232.68L111.04 232.60L111.48 232.53L111.92 232.47L112.37 232.41L112.82 232.36L113.27 232.31L113.73 232.26L114.19 232.22L114.66 232.18L115.12 232.15L115.59 232.12L116.07 232.10L116.54 232.08L117.03 232.06L117.51 232.04L118.00 232.03L118.49 232.03L118.98 232.02L119.48 232.02L119.98 232.02L120.48 232.03L120.99 232.04L121.50 232.05L122.01 232.06L122.53 232.08L123.05 232.10L123.57 232.12L124.09 232.14L124.62 232.17L125.15 232.20L125.69 232.23L126.23 232.26L126.77 232.30L127.31 232.33L127.86 232.37L128.41 232.40L128.96 232.44L129.52 232.48L130.07 232.52L130.64 232.56L131.20 232.61L131.77 232.65L132.34 232.69L132.91 232.73L133.49 232.77L134.07 232.81L134.65 232.86L135.24 232.90L135.82 232.94L136.42 232.97L137.01 233.01L137.61 233.05L138.21 233.09L138.81 233.12L139.41 233.15L140.02 233.18L140.63 233.21L141.25 233.24L141.86 233.27L142.48 233.29L143.10 233.31L143.73 233.33L144.36 233.35L144.99 233.36L145.62 233.38L146.26 233.38L146.89 233.39L147.54 233.39L148.18 233.39L148.83 233.39L149.48 233.38L150.13 233.37L150.78 233.36L151.44 233.34L152.10 233.32L152.76 233.30L153.43 233.27L154.10 233.23L154.77 233.20L155.44 233.16L156.12 233.11L156.80 233.06L157.48 233.00L158.16 232.94L158.85 232.88L159.54 232.81L160.23 232.74L160.92 232.66L161.62 232.57L162.32 232.48L163.02 232.39L163.73 232.29L164.43 232.18L165.14 232.07L165.85 231.96L166.57 231.85L167.29 231.72L168.01 231.60L168.73 231.47L169.45 231.34L170.18 231.21L170.91 231.07L171.64 230.93L172.38 230.79L173.11 230.64L173.85 230.49L174.60 230.34L175.34 230.19L176.09 230.04L176.84 229.88L177.59 229.73L178.34 229.57L179.10 229.41L179.86 229.25L180.62 229.09L181.39 228.92L182.15 228.76L182.92 228.60L183.69 228.43L184.47 228.27L185.24 228.10L186.02 227.94L186.80 227.78L187.58 227.61L188.37 227.45L189.16 227.29L189.95 227.13L190.74 226.97L191.54 226.81L192.33 226.65L193.13 226.50L193.94 226.34L194.74 226.19L195.55 226.04L196.36 225.89L197.17 225.74L197.98 225.60L198.80 225.45L199.62 225.31L200.44 225.18L201.26 225.04L202.09 224.91L202.91 224.78L203.74 224.65L204.58 224.53L205.41 224.40L206.25 224.29L207.09 224.17L207.93 224.05L208.77 223.94L209.62 223.83L210.47 223.73L211.32 223.63L212.17 223.52L213.02 223.43L213.88 223.33L214.74 223.24L215.60 223.15L216.47 223.07L217.33 222.98L218.20 222.90L219.07 222.83L219.94 222.75L220.82 222.68L221.70 222.61L222.58 222.55L223.46 222.49L224.34 222.43L225.23 222.37L226.12 222.32L227.01 222.27L227.90 222.23L228.79 222.19L229.69 222.15L230.59 222.11L231.49 222.08L232.39 222.05L233.30 222.03L234.21 222.00L235.12 221.99L236.03 221.97L236.94 221.96L237.86 221.95L238.78 221.95L239.70 221.95L240.62 221.95L241.55 221.95L242.47 221.96L243.40 221.98L244.33 221.99L245.27 222.01L246.20 222.04L247.14 222.07L248.08 222.10L249.02 222.13L249.97 222.17L250.91 222.22L251.86 222.26L252.81 222.31L253.76 222.37L254.72 222.43L255.67 222.49L256.63 222.56L257.59 222.63L258.56 222.70L259.52 222.78L260.49 222.86L261.46 222.95L262.43 223.04L263.40 223.13L264.38 223.23L265.35 223.33L266.33 223.44L267.31 223.55L268.30 223.67L269.28 223.79L270.27 223.91L271.26 224.04L272.25 224.17L273.24 224.31L274.24 224.45L275.24 224.59L276.24 224.74L277.24 224.89L278.24 225.05L279.25 225.21L280.26 225.38L281.27 225.55L282.28 225.73L283.29 225.91L284.31 226.09L285.32 226.28L286.34 226.48L287.37 226.67L288.39 226.88L289.41 227.08L290.44 227.29L291.47 227.51L292.50 227.73L293.54 227.96L294.57 228.18L295.61 228.42L296.65 228.65L297.69 228.89L298.73 229.14L299.78 229.38L300.83 229.63L301.88 229.88L302.93 230.14L303.98 230.40L305.04 230.66L306.09 230.93L307.15 231.19L308.21 231.46L309.28 231.73L310.34 232.01L311.41 232.28L312.48 232.56L313.55 232.84L314.62 233.12L315.70 233.41L316.77 233.69L317.85 233.98L318.93 234.26L320.01 234.55L321.10 234.84L322.18 235.13L323.27 235.43L324.36 235.72L325.45 236.01L326.55 236.30L327.64 236.60L328.74 236.89L329.84 237.19L330.94 237.48L332.04 237.77L333.15 238.07L334.26 238.36L335.37 238.66L336.48 238.95L337.59 239.24L338.70 239.53L339.82 239.83L340.94 240.12L342.06 240.40L343.18 240.69L344.30 240.98L345.43 241.27L346.56 241.55L347.69 241.83L348.82 242.11L349.95 242.39L351.09 242.67L352.22 242.95L353.36 243.22L354.50 243.49L355.65 243.76L356.79 244.03L357.94 244.29L359.09 244.56L360.24 244.82L361.39 245.07L362.54 245.33L363.70 245.58L364.85 245.83L366.01 246.07L367.17 246.31L368.34 246.55L369.50 246.79L370.67 247.02L371.84 247.25L373.01 247.47L374.18 247.69L375.35 247.91L376.53 248.12L377.70 248.33L378.88 248.53L380.06 248.73L381.25 248.93L382.43 249.12L383.62 249.31L384.81 249.49L386.00 249.67L387.19 249.84L388.38 250.01" stroke="#0cf20c" stroke-width="1.0" stroke-dasharray="4.3 1.9 0.9 1.9"/>
</g>
<g fill="none" stroke="#858585" stroke-width="0.9" stroke-linecap="round" stroke-linejoin="round">
<path transform="translate(90.5 276.2) rotate(0)" d="M-0.48 -10.92L-1.92 -10.40L-2.88 -8.84L-3.36 -6.24L-3.36 -4.68L-2.88 -2.08L-1.92 -0.52L-0.48 -0.00L0.48 -0.00L1.92 -0.52L2.88 -2.08L3.36 -4.68L3.36 -6.24L2.88 -8.84L1.92 -10.40L0.48 -10.92L-0.48 -10.92"/>
<path transform="translate(164.8 276.2) rotate(0)" d="M-1.92 -8.84L-0.96 -9.36L0.48 -10.92L0.48 -0.00"/>
<path transform="translate(239.1 276.2) rotate(0)" d="M-2.88 -8.32L-2.88 -8.84L-2.40 -9.88L-1.92 -10.40L-0.96 -10.92L0.96 -10.92L1.92 -10.40L2.40 -9.88L2.88 -8.84L2.88 -7.80L2.40 -6.76L1.44 -5.20L-3.36 -0.00L3.36 -0.00"/>
<path transform="translate(313.4 276.2) rotate(0)" d="M-2.40 -10.92L2.88 -10.92L0.00 -6.76L1.44 -6.76L2.40 -6.24L2.88 -5.72L3.36 -4.16L3.36 -3.12L2.88 -1.56L1.92 -0.52L0.48 -0.00L-0.96 -0.00L-2.40 -0.52L-2.88 -1.04L-3.36 -2.08"/>
<path transform="translate(387.7 276.2) rotate(0)" d="M1.44 -10.92L-3.36 -3.64L3.84 -3.64M1.44 -10.92L1.44 -0.00"/>
<path transform="translate(86 254.20000000000002) rotate(0)" d="M-5.28 -10.92L-6.72 -10.40L-7.68 -8.84L-8.16 -6.24L-8.16 -4.68L-7.68 -2.08L-6.72 -0.52L-5.28 -0.00L-4.32 -0.00L-2.88 -0.52L-1.92 -2.08L-1.44 -4.68L-1.44 -6.24L-1.92 -8.84L-2.88 -10.40L-4.32 -10.92L-5.28 -10.92"/>
<path transform="translate(86 215.9) rotate(0)" d="M-6.72 -8.84L-5.76 -9.36L-4.32 -10.92L-4.32 -0.00"/>
<path transform="translate(86 170.79999999999998) rotate(0)" d="M-7.68 -8.32L-7.68 -8.84L-7.20 -9.88L-6.72 -10.40L-5.76 -10.92L-3.84 -10.92L-2.88 -10.40L-2.40 -9.88L-1.92 -8.84L-1.92 -7.80L-2.40 -6.76L-3.36 -5.20L-8.16 -0.00L-1.44 -0.00"/>
<path transform="translate(86 125.69999999999999) rotate(0)" d="M-7.20 -10.92L-1.92 -10.92L-4.80 -6.76L-3.36 -6.76L-2.40 -6.24L-1.92 -5.72L-1.44 -4.16L-1.44 -3.12L-1.92 -1.56L-2.88 -0.52L-4.32 -0.00L-5.76 -0.00L-7.20 -0.52L-7.68 -1.04L-8.16 -2.08"/>
<path transform="translate(86 80.6) rotate(0)" d="M-3.36 -10.92L-8.16 -3.64L-0.96 -3.64M-3.36 -10.92L-3.36 -0.00"/>
<path transform="translate(86 39.900000000000006) rotate(0)" d="M-2.40 -10.92L-7.20 -10.92L-7.68 -6.24L-7.20 -6.76L-5.76 -7.28L-4.32 -7.28L-2.88 -6.76L-1.92 -5.72L-1.44 -4.16L-1.44 -3.12L-1.92 -1.56L-2.88 -0.52L-4.32 -0.00L-5.76 -0.00L-7.20 -0.52L-7.68 -1.04L-8.16 -2.08"/>
<path transform="translate(238.7 295) rotate(0)" d="M-28.32 -10.92L-28.32 -0.00M-28.32 -10.92L-24.00 -10.92L-22.56 -10.40L-22.08 -9.88L-21.60 -8.84L-21.60 -7.80L-22.08 -6.76L-22.56 -6.24L-24.00 -5.72L-28.32 -5.72M-24.96 -5.72L-21.60 -0.00M-18.72 -4.16L-12.96 -4.16L-12.96 -5.20L-13.44 -6.24L-13.92 -6.76L-14.88 -7.28L-16.32 -7.28L-17.28 -6.76L-18.24 -5.72L-18.72 -4.16L-18.72 -3.12L-18.24 -1.56L-17.28 -0.52L-16.32 -0.00L-14.88 -0.00L-13.92 -0.52L-12.96 -1.56M-4.32 -10.92L-4.32 -0.00M-4.32 -5.72L-5.28 -6.76L-6.24 -7.28L-7.68 -7.28L-8.64 -6.76L-9.60 -5.72L-10.08 -4.16L-10.08 -3.12L-9.60 -1.56L-8.64 -0.52L-7.68 -0.00L-6.24 -0.00L-5.28 -0.52L-4.32 -1.56M4.32 -5.72L3.84 -6.76L2.40 -7.28L0.96 -7.28L-0.48 -6.76L-0.96 -5.72L-0.48 -4.68L0.48 -4.16L2.88 -3.64L3.84 -3.12L4.32 -2.08L4.32 -1.56L3.84 -0.52L2.40 -0.00L0.96 -0.00L-0.48 -0.52L-0.96 -1.56M7.68 -10.92L7.68 -0.00M7.68 -5.20L9.12 -6.76L10.08 -7.28L11.52 -7.28L12.48 -6.76L12.96 -5.20L12.96 -0.00M16.32 -10.92L16.80 -10.40L17.28 -10.92L16.80 -11.44L16.32 -10.92M16.80 -7.28L16.80 -0.00M23.52 -10.92L22.56 -10.92L21.60 -10.40L21.12 -8.84L21.12 -0.00M19.68 -7.28L23.04 -7.28M26.88 -10.92L26.88 -2.08L27.36 -0.52L28.32 -0.00L29.28 -0.00M25.44 -7.28L28.80 -7.28"/>
<path transform="translate(62.9 141.9) rotate(-90)" d="M-40.72 -6.44L-40.72 3.22M-40.72 -5.06L-39.74 -5.98L-38.75 -6.44L-37.28 -6.44L-36.29 -5.98L-35.31 -5.06L-34.82 -3.68L-34.82 -2.76L-35.31 -1.38L-36.29 -0.46L-37.28 -0.00L-38.75 -0.00L-39.74 -0.46L-40.72 -1.38M-32.12 -3.23L-32.12 2.76L-28.46 2.76M-18.32 -11.50L-27.17 3.22M5.79 -11.50L4.81 -10.58L3.82 -9.20L2.84 -7.36L2.35 -5.06L2.35 -3.22L2.84 -0.92L3.82 0.92L4.81 2.30L5.79 3.22M27.44 -9.66L27.44 -0.00M34.33 -9.66L27.44 -3.22M29.90 -5.52L34.33 -0.00M37.28 -11.50L38.26 -10.58L39.25 -9.20L40.23 -7.36L40.72 -5.06L40.72 -3.22L40.23 -0.92L39.25 0.92L38.26 2.30L37.28 3.22"/>
</g>
<g fill="none" stroke="#6a6a6a" stroke-width="1.15" stroke-linecap="round" stroke-linejoin="round">
<path transform="translate(62.9 141.9) rotate(-90)" d="M-15.86 -5.06L-15.37 -5.98L-14.38 -6.44L-8.48 -6.44M-11.92 -6.44L-13.15 -0.00M10.71 -6.44L7.76 3.22M10.22 -4.60L9.73 -1.84L10.22 -0.46L11.20 -0.00L12.19 -0.00L13.66 -0.46L15.14 -2.30M16.12 -6.44L15.14 -2.30L15.14 -0.92L15.63 -0.00L16.61 -0.00L17.11 -0.92"/>
</g>
</svg></body></html>
